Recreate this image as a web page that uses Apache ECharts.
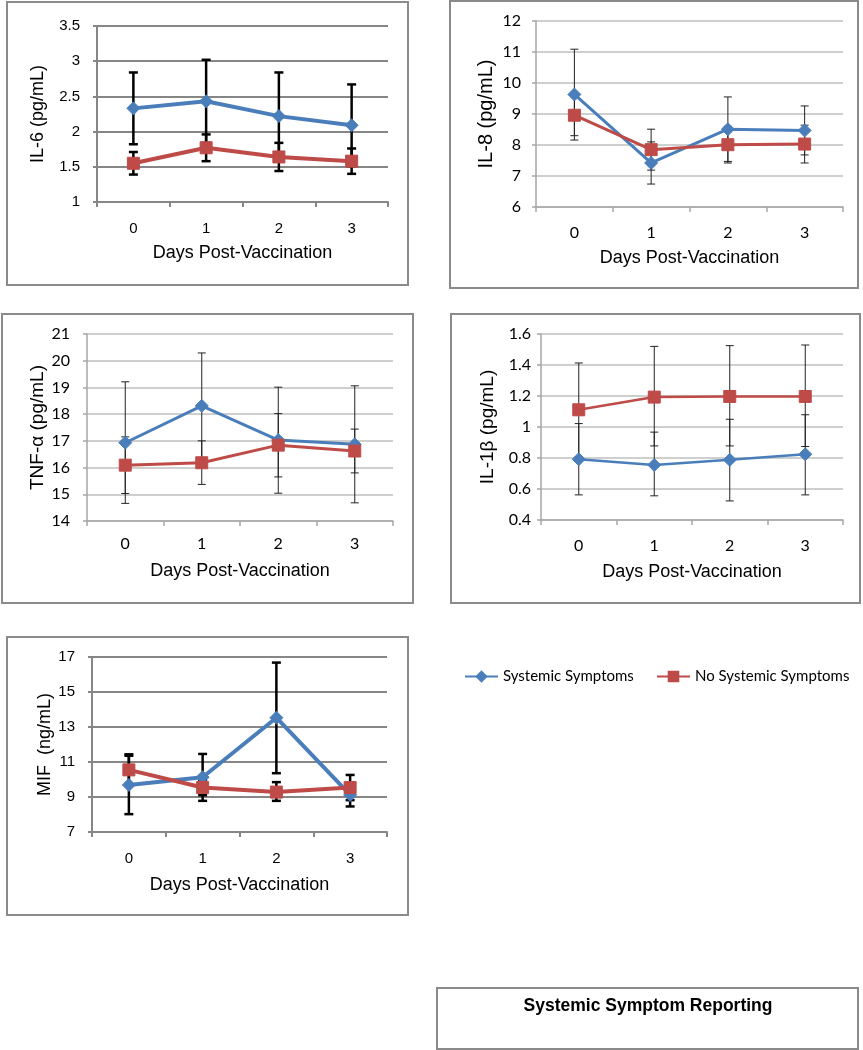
<!DOCTYPE html>
<html><head><meta charset="utf-8">
<script src="https://cdn.jsdelivr.net/npm/echarts@6/dist/echarts.min.js"></script>
<style>html,body{margin:0;padding:0;background:#fff}#c{width:863px;height:1050px}</style>
</head><body><div id="c"></div><script>
// ---- data ----
const days = ['0', '1', '2', '3'];
const seriesNames = ['Systemic Symptoms', 'No Systemic Symptoms'];
const chartTitle = 'Systemic Symptom Reporting';
const xTitle = 'Days Post-Vaccination';

const il6Sys = [2.33, 2.43, 2.22, 2.09];
const il6SysLo = [1.82, 1.84, 1.60, 1.51];
const il6SysHi = [2.84, 3.02, 2.84, 2.67];
const il6No = [1.55, 1.77, 1.64, 1.58];
const il6NoLo = [1.39, 1.58, 1.44, 1.40];
const il6NoHi = [1.71, 1.96, 1.84, 1.76];

const il8Sys = [9.63, 7.42, 8.51, 8.47];
const il8SysLo = [8.16, 6.74, 7.47, 7.68];
const il8SysHi = [11.09, 8.10, 9.55, 9.26];
const il8No = [8.96, 7.85, 8.01, 8.03];
const il8NoLo = [8.30, 7.19, 7.42, 7.42];
const il8NoHi = [9.62, 8.51, 8.60, 8.64];

const tnfSys = [16.93, 18.31, 17.03, 16.87];
const tnfSysLo = [14.66, 16.33, 15.04, 14.68];
const tnfSysHi = [19.21, 20.29, 19.01, 19.06];
const tnfNo = [16.09, 16.18, 16.84, 16.62];
const tnfNoLo = [15.03, 15.37, 15.65, 15.80];
const tnfNoHi = [17.15, 17.00, 18.02, 17.44];

const il1bSys = [0.792, 0.755, 0.788, 0.824];
const il1bSysLo = [0.562, 0.556, 0.523, 0.562];
const il1bSysHi = [1.022, 0.967, 1.050, 1.079];
const il1bNo = [1.111, 1.193, 1.197, 1.197];
const il1bNoLo = [0.809, 0.878, 0.878, 0.874];
const il1bNoHi = [1.413, 1.520, 1.525, 1.529];

const mifSys = [9.69, 10.13, 13.53, 9.12];
const mifSysLo = [8.02, 8.78, 10.36, 8.46];
const mifSysHi = [11.36, 11.46, 16.68, 9.78];
const mifNo = [10.55, 9.54, 9.28, 9.54];
const mifNoLo = [9.66, 9.10, 8.78, 8.82];
const mifNoHi = [11.44, 9.98, 9.85, 10.26];

// ---- layout / style ----
const BLUE = '#4A7EBB', RED = '#BE4B48';
const ARIAL = 'Liberation Sans', CAL = 'Lato';
const panels = [
  { yName: 'IL-6 (pg/mL)', sys: il6Sys, sysLo: il6SysLo, sysHi: il6SysHi, no: il6No, noLo: il6NoLo, noHi: il6NoHi,
    grid: { left: 97, top: 26, width: 291, height: 176 }, y: { min: 1, max: 3.5, interval: 0.5 },
    frame: [7, 2, 401, 283], lw: 4, sym: 13, errW: 2.5, capW: 9, errC: '#000', gridC: '#868686', gridW: 2, axisC: '#868686',
    tickFont: ARIAL, tickSize: 15, yGap: 50, xGap: 42, xMargin: 19, yMargin: 17, yTitleSize: 18 },
  { yName: 'IL-8 (pg/mL)', sys: il8Sys, sysLo: il8SysLo, sysHi: il8SysHi, no: il8No, noLo: il8NoLo, noHi: il8NoHi,
    grid: { left: 536, top: 21, width: 307, height: 186 }, y: { min: 6, max: 12, interval: 1 },
    frame: [450, 1, 408, 287], lw: 3, sym: 13, errW: 1, capW: 8, errC: '#222', gridC: '#bfbfbf', gridW: 1.5, axisC: '#a6a6a6',
    tickFont: CAL, tickSize: 16, yGap: 40, xGap: 42, xMargin: 18, yMargin: 15, yTitleSize: 20 },
  { yName: 'TNF-α (pg/mL)', sys: tnfSys, sysLo: tnfSysLo, sysHi: tnfSysHi, no: tnfNo, noLo: tnfNoLo, noHi: tnfNoHi,
    grid: { left: 87, top: 334, width: 306, height: 187 }, y: { min: 14, max: 21, interval: 1 },
    frame: [2, 314, 411, 289], lw: 3, sym: 13, errW: 1, capW: 8, errC: '#222', gridC: '#bfbfbf', gridW: 1.5, axisC: '#a6a6a6',
    tickFont: CAL, tickSize: 16, yGap: 39, xGap: 41, xMargin: 15, yMargin: 17, yTitleSize: 19 },
  { yName: 'IL-1β (pg/mL)', sys: il1bSys, sysLo: il1bSysLo, sysHi: il1bSysHi, no: il1bNo, noLo: il1bNoLo, noHi: il1bNoHi,
    grid: { left: 541, top: 334, width: 302, height: 186 }, y: { min: 0.4, max: 1.6, interval: 0.2 },
    frame: [451, 314, 409, 289], lw: 2.5, sym: 13, errW: 1, capW: 8, errC: '#222', gridC: '#bfbfbf', gridW: 1.5, axisC: '#a6a6a6',
    tickFont: CAL, tickSize: 16, yGap: 44, xGap: 43, xMargin: 18, yMargin: 10, yTitleSize: 19 },
  { yName: 'MIF  (ng/mL)', sys: mifSys, sysLo: mifSysLo, sysHi: mifSysHi, no: mifNo, noLo: mifNoLo, noHi: mifNoHi,
    grid: { left: 92, top: 657, width: 295, height: 175 }, y: { min: 7, max: 17, interval: 2 },
    frame: [7, 637, 401, 278], lw: 4, sym: 13, errW: 2.5, capW: 9, errC: '#000', gridC: '#868686', gridW: 2, axisC: '#868686',
    tickFont: ARIAL, tickSize: 15, yGap: 38, xGap: 44, xMargin: 19, yMargin: 17, yTitleSize: 18 }
];

const grids = [], xAxes = [], yAxes = [], series = [], graphics = [];

function errSeries(pi, p, lo, hi) {
  return {
    type: 'custom', xAxisIndex: pi, yAxisIndex: pi, z: 2, silent: true,
    encode: { x: 0, y: [1, 2] },
    data: days.map((d, i) => [i, lo[i], hi[i]]),
    renderItem: function (params, api) {
      const i = api.value(0);
      const a = api.coord([i, api.value(1)]);
      const b = api.coord([i, api.value(2)]);
      const c = p.capW / 2;
      const st = { stroke: p.errC, lineWidth: p.errW };
      return { type: 'group', children: [
        { type: 'line', shape: { x1: a[0], y1: a[1], x2: b[0], y2: b[1] }, style: st },
        { type: 'line', shape: { x1: a[0] - c, y1: a[1], x2: a[0] + c, y2: a[1] }, style: st },
        { type: 'line', shape: { x1: b[0] - c, y1: b[1], x2: b[0] + c, y2: b[1] }, style: st }
      ] };
    }
  };
}

panels.forEach((p, pi) => {
  grids.push(Object.assign({ containLabel: false }, p.grid));
  graphics.push({ type: 'rect', shape: { x: p.frame[0], y: p.frame[1], width: p.frame[2], height: p.frame[3] },
    style: { fill: 'none', stroke: '#8a8a8a', lineWidth: 2 }, z: 0, silent: true });
  xAxes.push({
    type: 'category', gridIndex: pi, data: days, boundaryGap: true,
    name: xTitle, nameLocation: 'middle', nameGap: p.xGap,
    nameTextStyle: { fontFamily: ARIAL, fontSize: 18, color: '#000' },
    axisLine: { lineStyle: { color: p.axisC, width: p.gridW } },
    axisTick: { show: true, interval: 0, length: 5, lineStyle: { color: p.axisC, width: p.gridW } },
    axisLabel: { fontFamily: p.tickFont, fontSize: p.tickSize, color: '#000', margin: p.xMargin },
    splitLine: { show: false }
  });
  yAxes.push({
    type: 'value', gridIndex: pi, min: p.y.min, max: p.y.max, interval: p.y.interval,
    name: p.yName, nameLocation: 'middle', nameGap: p.yGap, nameRotate: 90,
    nameTextStyle: { fontFamily: ARIAL, fontSize: p.yTitleSize, color: '#000' },
    axisLine: { show: true, lineStyle: { color: p.axisC, width: p.gridW } },
    axisTick: { show: true, length: 4, lineStyle: { color: p.axisC, width: p.gridW } },
    axisLabel: { fontFamily: p.tickFont, fontSize: p.tickSize, color: '#000', margin: p.yMargin },
    splitLine: { show: true, lineStyle: { color: p.gridC, width: p.gridW } }
  });
  series.push(errSeries(pi, p, p.sysLo, p.sysHi));
  series.push(errSeries(pi, p, p.noLo, p.noHi));
  series.push({ type: 'line', name: seriesNames[0], xAxisIndex: pi, yAxisIndex: pi, data: p.sys, z: 3,
    symbol: 'diamond', symbolSize: p.sym, showAllSymbol: true,
    lineStyle: { color: BLUE, width: p.lw }, itemStyle: { color: BLUE, borderColor: BLUE, borderWidth: 1 } });
  series.push({ type: 'line', name: seriesNames[1], xAxisIndex: pi, yAxisIndex: pi, data: p.no, z: 4,
    symbol: 'rect', symbolSize: p.sym - 1, showAllSymbol: true,
    lineStyle: { color: RED, width: p.lw }, itemStyle: { color: RED, borderColor: RED, borderWidth: 1 } });
});

graphics.push({ type: 'rect', shape: { x: 437, y: 988, width: 421, height: 61 },
  style: { fill: 'none', stroke: '#8a8a8a', lineWidth: 2 }, silent: true });
graphics.push({ type: 'text', x: 648, y: 1006, style: { text: chartTitle, fontFamily: ARIAL, fontWeight: 'bold', fontSize: 17.5,
  fill: '#000', align: 'center', verticalAlign: 'middle' } });

const legendText = { fontFamily: CAL, fontSize: 15, color: '#000' };
const chart = echarts.init(document.getElementById('c'), null, { renderer: 'canvas' });
chart.setOption({
  animation: false,
  backgroundColor: '#fff',
  grid: grids, xAxis: xAxes, yAxis: yAxes, series: series, graphic: graphics,
  legend: [
    { data: [seriesNames[0]], left: 464, top: 669, itemWidth: 33, itemHeight: 12, padding: 0, textStyle: legendText },
    { data: [seriesNames[1]], left: 656, top: 669, itemWidth: 33, itemHeight: 12, padding: 0, textStyle: legendText }
  ]
});
</script></body></html>
